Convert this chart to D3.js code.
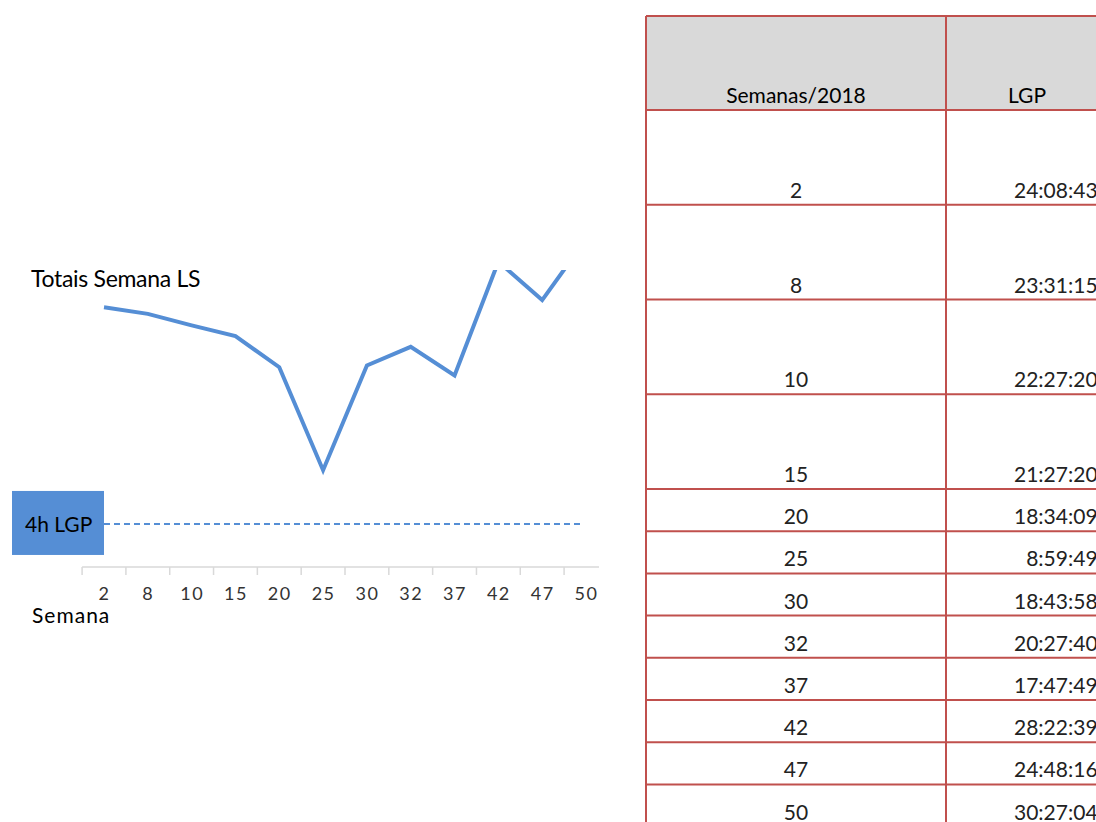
<!DOCTYPE html>
<html>
<head>
<meta charset="utf-8">
<script src="https://cdn.jsdelivr.net/npm/d3@7"></script>
<style>
  html, body { margin: 0; padding: 0; background: #fff; overflow: hidden; }
  svg { display: block; }
</style>
</head>
<body>
<svg id="chart" width="1096" height="822"></svg>
<script>
// ---------- DATA ----------
const weeks = ["2", "8", "10", "15", "20", "25", "30", "32", "37", "42", "47", "50"];
const lgpTimes = ["24:08:43", "23:31:15", "22:27:20", "21:27:20", "18:34:09", "8:59:49",
                  "18:43:58", "20:27:40", "17:47:49", "28:22:39", "24:48:16", "30:27:04"];
const targetHours = [4];
const chartTitle = ["Totais Semana LS"];
const xAxisTitle = ["Semana"];
const refLabel = ["4h LGP"];
const tableHeaders = ["Semanas/2018", "LGP"];

// hours from h:mm:ss strings
const lgpHours = lgpTimes.map(t => {
  const [h, m, s] = t.split(":").map(Number);
  return h + m / 60 + s / 3600;
});

// ---------- LAYOUT ----------
const svg = d3.select("#chart");
const FONT = "Lato, 'Open Sans', sans-serif";
const blue = "#558ed5";
const plot = { left: 0, right: 599, top: 270, bottom: 624 };

const x = d3.scalePoint().domain(weeks).range([104, 586]);
const y = d3.scaleLinear().domain([0, 27.6]).range([567, 270]);
const step = x.step();

const defs = svg.append("defs");
defs.append("clipPath").attr("id", "plotClip")
  .append("rect")
  .attr("x", plot.left).attr("y", plot.top)
  .attr("width", plot.right - plot.left).attr("height", plot.bottom - plot.top);

const g = svg.append("g").attr("clip-path", "url(#plotClip)");

// axis line + ticks between categories
g.append("line")
  .attr("x1", x(weeks[0]) - step / 2).attr("x2", x(weeks[weeks.length - 1]) + step / 2)
  .attr("y1", y(0)).attr("y2", y(0))
  .attr("stroke", "#d9d9d9").attr("stroke-width", 1.5);
g.selectAll("line.tick").data(weeks).join("line")
  .attr("class", "tick")
  .attr("x1", d => x(d) - step / 2).attr("x2", d => x(d) - step / 2)
  .attr("y1", y(0)).attr("y2", y(0) + 8)
  .attr("stroke", "#d9d9d9").attr("stroke-width", 1.5);

// tick labels via d3 axis
const axis = d3.axisBottom(x).tickSize(0).tickPadding(0);
const axG = g.append("g").attr("transform", `translate(0,${y(0)})`).call(axis);
axG.select(".domain").remove();
axG.selectAll("text")
  .attr("dy", null).attr("y", 33)
  .attr("font-family", FONT).attr("font-size", 18)
  .attr("letter-spacing", 1.5)
  .attr("fill", "#333");

// x-axis title
g.append("text").text(xAxisTitle[0])
  .attr("x", 32).attr("y", 623)
  .attr("font-family", FONT).attr("font-size", 21)
  .attr("letter-spacing", 1)
  .attr("fill", "#000");

// target dashed line
g.selectAll("line.target").data(targetHours).join("line")
  .attr("class", "target")
  .attr("x1", x(weeks[0])).attr("x2", x(weeks[weeks.length - 1]) - 3)
  .attr("y1", d => y(d)).attr("y2", d => y(d))
  .attr("stroke", blue).attr("stroke-width", 2)
  .attr("stroke-dasharray", "6,4");

// main line
const line = d3.line().x((d, i) => x(weeks[i])).y(d => y(d));
g.append("path").datum(lgpHours)
  .attr("d", line)
  .attr("fill", "none")
  .attr("stroke", blue).attr("stroke-width", 4)
  .attr("stroke-linejoin", "miter");

// title
svg.append("text").text(chartTitle[0])
  .attr("x", 31).attr("y", 287)
  .attr("font-family", FONT).attr("font-size", 23)
  .attr("letter-spacing", -0.3)
  .attr("fill", "#000");

// reference label box
const boxG = svg.append("g");
boxG.append("rect")
  .attr("x", 12).attr("y", y(targetHours[0]) - 33)
  .attr("width", 92).attr("height", 64)
  .attr("fill", blue);
boxG.append("text").text(refLabel[0])
  .attr("x", 25).attr("y", y(targetHours[0]) + 8)
  .attr("font-family", FONT).attr("font-size", 21)
  .attr("fill", "#000");

// ---------- TABLE ----------
const tbl = { left: 646, mid: 946, right: 1120, top: 16 };
const headerH = 94;
const rowH = weeks.map((w, i) => i < 4 ? 94.75 : 42.2);
const border = "#c0504d";
const tg = svg.append("g");

const rowTops = [];
let yy = tbl.top + headerH;
rowH.forEach(h => { rowTops.push(yy); yy += h; });
const tableBottom = yy;

// header fill
tg.append("rect")
  .attr("x", tbl.left).attr("y", tbl.top)
  .attr("width", tbl.right - tbl.left).attr("height", headerH)
  .attr("fill", "#d9d9d9");

// header text
tg.append("text").text(tableHeaders[0])
  .attr("x", (tbl.left + tbl.mid) / 2).attr("y", tbl.top + headerH - 7)
  .attr("text-anchor", "middle")
  .attr("font-family", FONT).attr("font-size", 21).attr("fill", "#000");
tg.append("text").text(tableHeaders[1])
  .attr("x", 1027).attr("y", tbl.top + headerH - 7)
  .attr("text-anchor", "middle")
  .attr("font-family", FONT).attr("font-size", 21).attr("fill", "#000");

// measure right edge for right-aligned values
const probe = tg.append("text").text(lgpTimes[0])
  .attr("font-family", FONT).attr("font-size", 21);
const wProbe = probe.node().getComputedTextLength();
probe.remove();
const valRight = 1014 + wProbe;

const rows = tg.selectAll("g.row").data(weeks).join("g").attr("class", "row");
rows.append("text").text(d => d)
  .attr("x", (tbl.left + tbl.mid) / 2)
  .attr("y", (d, i) => rowTops[i] + rowH[i] - 7)
  .attr("text-anchor", "middle")
  .attr("font-family", FONT).attr("font-size", 21).attr("fill", "#222");
rows.append("text").text((d, i) => lgpTimes[i])
  .attr("x", valRight)
  .attr("y", (d, i) => rowTops[i] + rowH[i] - 7)
  .attr("text-anchor", "end")
  .attr("font-family", FONT).attr("font-size", 21).attr("fill", "#222");

// grid lines
const hLines = [tbl.top, tbl.top + headerH].concat(rowTops.slice(1), [tableBottom]);
tg.selectAll("line.h").data(hLines).join("line")
  .attr("class", "h")
  .attr("x1", tbl.left).attr("x2", tbl.right)
  .attr("y1", d => d).attr("y2", d => d)
  .attr("stroke", border).attr("stroke-width", 2);
tg.selectAll("line.v").data([tbl.left, tbl.mid]).join("line")
  .attr("class", "v")
  .attr("x1", d => d).attr("x2", d => d)
  .attr("y1", tbl.top).attr("y2", tableBottom)
  .attr("stroke", border).attr("stroke-width", 2);
</script>
</body>
</html>
